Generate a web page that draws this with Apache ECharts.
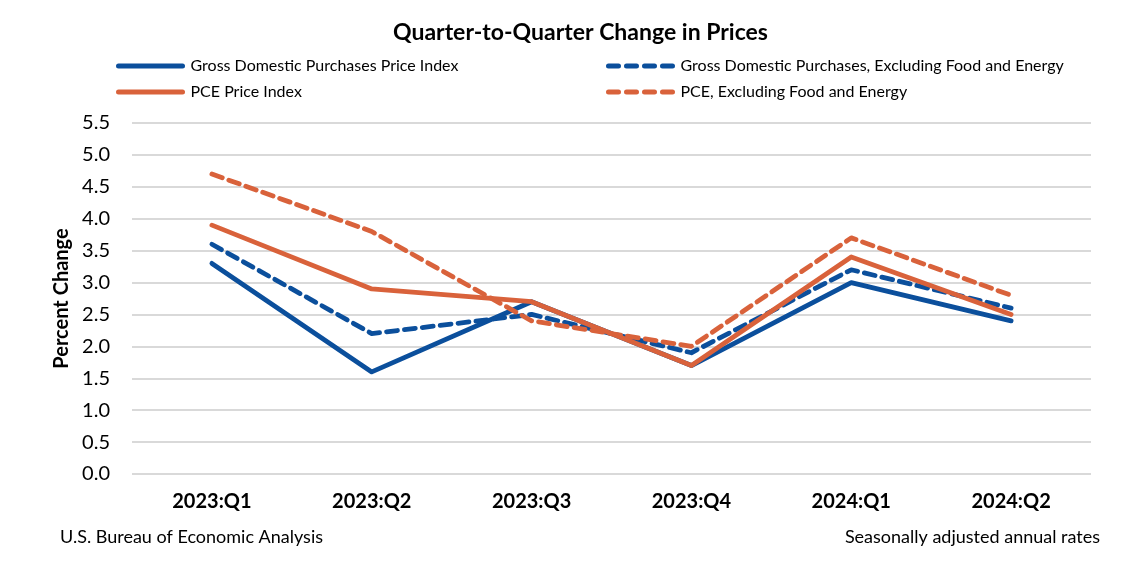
<!DOCTYPE html>
<html>
<head>
<meta charset="utf-8">
<script src="https://cdn.jsdelivr.net/npm/echarts@6/dist/echarts.min.js"></script>
<style>html,body{margin:0;padding:0;background:#fff}#c{width:1122px;height:579px}</style>
</head>
<body>
<div id="c"></div>
<script>
const categories = ['2023:Q1','2023:Q2','2023:Q3','2023:Q4','2024:Q1','2024:Q2'];
const gdpPrice = [3.3, 1.6, 2.7, 1.7, 3.0, 2.4];
const gdpExFE = [3.6, 2.2, 2.5, 1.9, 3.2, 2.6];
const pcePrice = [3.9, 2.9, 2.7, 1.7, 3.4, 2.5];
const pceExFE = [4.7, 3.8, 2.4, 2.0, 3.7, 2.8];
const seriesNames = ['Gross Domestic Purchases Price Index','Gross Domestic Purchases, Excluding Food and Energy','PCE Price Index','PCE, Excluding Food and Energy'];

const BLUE = '#0B4F9C', ORANGE = '#D9623B';
const FONT = 'Lato';
const chart = echarts.init(document.getElementById('c'), null, {renderer:'canvas'});
function mkSeries(name, data, color, dashed, z){
  return {name, type:'line', data, symbol:'none', z,
    lineStyle:{color, width:4.8, type: dashed ? [11,7] : 'solid', cap:'round', join:'round'},
    itemStyle:{color}, emphasis:{disabled:true}};
}
function mkLegend(name, left, top, dashed){
  return {data:[name], left, top, padding:0, itemWidth:64, itemHeight:14, itemGap:0,
    itemStyle:{opacity:0},
    lineStyle:{width:5, type: dashed ? [10,8] : 'solid', cap:'round'},
    textStyle:{fontFamily:FONT, fontSize:16, color:'#000', padding:[0,0,0,3]}, selectedMode:false};
}
chart.setOption({
  animation:false,
  title:{text:'Quarter-to-Quarter Change in Prices', left:388, top:16,
    textStyle:{fontFamily:FONT, fontWeight:'bold', fontSize:23, color:'#000'}},
  legend:[
    mkLegend(seriesNames[0], 116, 58, false),
    mkLegend(seriesNames[1], 606, 58, true),
    mkLegend(seriesNames[2], 116, 84, false),
    mkLegend(seriesNames[3], 606, 84, true)
  ],
  grid:{left:132, right:31, top:123, bottom:105},
  xAxis:{type:'category', data:categories, boundaryGap:true,
    axisLine:{show:false}, axisTick:{show:false},
    axisLabel:{fontFamily:FONT, fontWeight:'bold', fontSize:20, color:'#000', margin:18}},
  yAxis:{type:'value', min:0, max:5.5, interval:0.5,
    name:'Percent Change', nameLocation:'middle', nameGap:58,
    nameTextStyle:{fontFamily:FONT, fontWeight:'bold', fontSize:20, color:'#000'},
    axisLabel:{fontFamily:FONT, fontSize:20, color:'#000', margin:22, formatter:v=>v.toFixed(1)},
    splitLine:{lineStyle:{color:'#D9D9D9', width:2}},
    axisLine:{show:false}, axisTick:{show:false}},
  graphic:[
    {type:'text', left:60, top:528, style:{text:'U.S. Bureau of Economic Analysis', font:'18px '+FONT, fill:'#000'}},
    {type:'text', right:22, top:528, style:{text:'Seasonally adjusted annual rates', font:'18px '+FONT, fill:'#000'}}
  ],
  series:[
    mkSeries(seriesNames[0], gdpPrice, BLUE, false, 3),
    mkSeries(seriesNames[1], gdpExFE, BLUE, true, 4),
    mkSeries(seriesNames[2], pcePrice, ORANGE, false, 5),
    mkSeries(seriesNames[3], pceExFE, ORANGE, true, 6)
  ]
});
</script>
</body>
</html>
